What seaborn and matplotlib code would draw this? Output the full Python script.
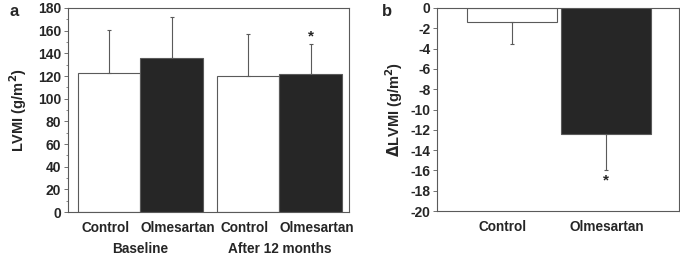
#!/usr/bin/env python3
"""
LVMI at baseline / after 12 months, and change in LVMI
"""
import pandas as pd
import seaborn as sns
import matplotlib.pyplot as plt
from matplotlib.ticker import MultipleLocator
import matplotlib.transforms as mtransforms

# panel a
timepoints = ["Baseline", "After 12 months"]
groups = ["Control", "Olmesartan"]
lvmi_control = [122.7, 119.7]
lvmi_olmesartan = [135.5, 121.8]
sd_control = [37.6, 37.7]
sd_olmesartan = [36.3, 26.1]

# panel b
delta_groups = ["Control", "Olmesartan"]
delta_lvmi = [-1.4, -12.4]
delta_sd = [2.1, 3.6]

palette = {"Control": "white", "Olmesartan": "#262626"}
edge = "#5a5a5a"
label_shift_px = {"Control": -3, "Olmesartan": 6}

sns.set_style("white")
plt.rcParams["font.family"] = ["Liberation Sans", "DejaVu Sans"]
plt.rcParams["font.weight"] = "bold"
plt.rcParams["axes.unicode_minus"] = False

fig = plt.figure(figsize=(6.8, 2.58), dpi=100)
ax_a = fig.add_axes([0.100, 0.178, 0.413, 0.791])
ax_b = fig.add_axes([0.643, 0.182, 0.356, 0.787])


def bar_labels(ax, xs, names, y, shifts):
    # category labels under bars, nudged sideways like the original
    for x, name in zip(xs, names):
        off = mtransforms.ScaledTranslation(shifts.get(name, 0) / 100, 0,
                                            fig.dpi_scale_trans)
        tr = mtransforms.blended_transform_factory(ax.transData, fig.transFigure)
        ax.text(x, y, name, transform=tr + off, ha="center", va="center",
                fontsize=9.8, fontweight="bold")


df_a = pd.DataFrame({
    "time": timepoints * 2,
    "group": [groups[0]] * 2 + [groups[1]] * 2,
    "lvmi": lvmi_control + lvmi_olmesartan,
    "sd": sd_control + sd_olmesartan,
})

sns.barplot(data=df_a, x="time", y="lvmi", hue="group", order=timepoints,
            hue_order=groups, palette=palette, width=0.9, errorbar=None,
            edgecolor=edge, linewidth=0.8, legend=False, ax=ax_a)

centers, labels = [], []
for container, grp, sds, vals in zip(ax_a.containers, groups,
                                     [sd_control, sd_olmesartan],
                                     [lvmi_control, lvmi_olmesartan]):
    xs = [p.get_x() + p.get_width() / 2 for p in container]
    ax_a.errorbar(xs, vals, yerr=[[0] * len(sds), sds], fmt="none",
                  ecolor=edge, elinewidth=0.8, capsize=1.5, capthick=0.8)
    centers += xs
    labels += [grp] * len(xs)

ax_a.set_xticks([])
ax_a.set_xlim(-0.52, 1.50)
ax_a.set_ylim(0, 180)
ax_a.yaxis.set_major_locator(MultipleLocator(20))
ax_a.yaxis.set_minor_locator(MultipleLocator(10))
ax_a.set_xlabel("")
ax_a.set_ylabel("LVMI (g/m$^\\mathbf{2}$)", fontsize=10.5, fontweight="bold", labelpad=6)
bar_labels(ax_a, centers, labels, 0.118, label_shift_px)

# star over olmesartan after 12 months
star_x = ax_a.containers[1][1]
ax_a.text(star_x.get_x() + star_x.get_width() / 2,
          lvmi_olmesartan[1] + sd_olmesartan[1] + 1, "*",
          ha="center", va="bottom", fontsize=11, fontweight="bold")

trans = mtransforms.blended_transform_factory(ax_a.transData, fig.transFigure)
for i, tp in enumerate(timepoints):
    ax_a.text(i, 0.035, tp, transform=trans, ha="center", va="center",
              fontsize=9.8, fontweight="bold")

# panel b
sns.barplot(x=delta_groups, y=delta_lvmi, hue=delta_groups, palette=palette,
            width=0.96, errorbar=None, edgecolor=edge, linewidth=0.8,
            legend=False, ax=ax_b)
bx = [c[0].get_x() + c[0].get_width() / 2 for c in ax_b.containers]
ax_b.errorbar(bx, delta_lvmi, yerr=[delta_sd, [0] * len(delta_sd)], fmt="none",
              ecolor=edge, elinewidth=0.8, capsize=1.5, capthick=0.8)
ax_b.text(bx[1], delta_lvmi[1] - delta_sd[1] - 0.3, "*", ha="center", va="top",
          fontsize=11, fontweight="bold")
ax_b.set_xlim(-0.80, 1.78)
ax_b.set_ylim(-20, 0)
ax_b.yaxis.set_major_locator(MultipleLocator(2))
ax_b.set_xticks([])
ax_b.set_ylabel("$\\mathbf{\\Delta}$LVMI (g/m$^\\mathbf{2}$)", fontsize=10.5,
                fontweight="bold", labelpad=4)
bar_labels(ax_b, bx, delta_groups, 0.122, {"Control": -10, "Olmesartan": 1})

for ax in (ax_a, ax_b):
    for s in ax.spines.values():
        s.set_visible(True)
        s.set_color(edge)
        s.set_linewidth(0.8)
    ax.tick_params(axis="y", which="major", direction="out", length=3,
                   width=0.6, color=edge, labelsize=10, pad=2, left=True)
    ax.tick_params(axis="y", which="minor", direction="out", length=1.5,
                   width=0.5, color=edge, left=True)
    for t in ax.get_yticklabels():
        t.set_fontweight("bold")

fig.text(0.021, 0.955, "a", fontsize=12, fontweight="bold", ha="center", va="center")
fig.text(0.569, 0.955, "b", fontsize=12, fontweight="bold", ha="center", va="center")

fig.savefig("out.png", dpi=100)
